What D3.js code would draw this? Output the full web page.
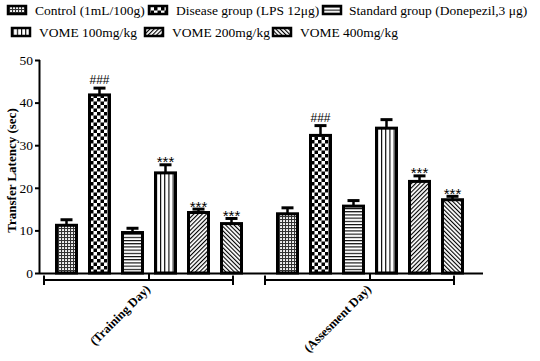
<!DOCTYPE html>
<html>
<head>
<meta charset="utf-8">
<script src="https://cdn.jsdelivr.net/npm/d3@7"></script>
<style>
  body { margin: 0; background: #fff; }
  svg { display: block; }
  text { font-family: "Liberation Serif", "Times New Roman", serif; fill: #000; }
</style>
</head>
<body>
<svg id="chart" width="540" height="361"></svg>
<script>
const groups = ["(Training Day)", "(Assesment Day)"];
const series = ["Control (1mL/100g)", "Disease group (LPS 12μg)", "Standard group (Donepezil,3 μg)",
                "VOME 100mg/kg", "VOME 200mg/kg", "VOME 400mg/kg"];
const trainingValues = [11.2, 41.8, 9.5, 23.5, 14.2, 11.6];
const trainingErrors = [1.3, 1.6, 1.0, 1.9, 0.8, 1.2];
const assessmentValues = [13.9, 32.3, 15.7, 34.0, 21.5, 17.2];
const assessmentErrors = [1.4, 2.3, 1.3, 2.0, 1.3, 0.8];
const trainingMarks = ["", "###", "", "***", "***", "***"];
const assessmentMarks = ["", "###", "", "", "***", "***"];
const yTicks = [0, 10, 20, 30, 40, 50];

const data = [
  { group: groups[0], values: trainingValues, errors: trainingErrors, marks: trainingMarks },
  { group: groups[1], values: assessmentValues, errors: assessmentErrors, marks: assessmentMarks }
];

const svg = d3.select("#chart");

// patterns
const defs = svg.append("defs");
function pat(id, w, h, draw) {
  const p = defs.append("pattern").attr("id", id).attr("patternUnits", "userSpaceOnUse")
    .attr("width", w).attr("height", h);
  p.append("rect").attr("width", w).attr("height", h).attr("fill", "#fff");
  draw(p);
}
// fine mesh
pat("p0", 3, 3, p => {
  p.append("rect").attr("x", 0).attr("y", 0).attr("width", 3).attr("height", 1).attr("fill", "#333");
  p.append("rect").attr("x", 0).attr("y", 0).attr("width", 1).attr("height", 3).attr("fill", "#333");
  p.append("rect").attr("x", 1.5).attr("y", 1.5).attr("width", 0.8).attr("height", 0.8).attr("fill", "#777");
});
// checkerboard
pat("p1", 7, 7, p => {
  p.append("rect").attr("x", 0).attr("y", 0).attr("width", 3.5).attr("height", 3.5).attr("fill", "#000");
  p.append("rect").attr("x", 3.5).attr("y", 3.5).attr("width", 3.5).attr("height", 3.5).attr("fill", "#000");
});
// horizontal lines
pat("p2", 4, 3.2, p => {
  p.append("rect").attr("x", 0).attr("y", 0).attr("width", 4).attr("height", 1.1).attr("fill", "#000");
});
// vertical lines
pat("p3", 4.2, 4, p => {
  p.append("rect").attr("x", 0).attr("y", 0).attr("width", 1.1).attr("height", 4).attr("fill", "#000");
});
// diagonal /
pat("p4", 3, 3, p => {
  p.attr("patternTransform", "rotate(45)");
  p.append("rect").attr("x", 0).attr("y", 0).attr("width", 1.1).attr("height", 3).attr("fill", "#000");
});
// diagonal \
pat("p5", 3, 3, p => {
  p.attr("patternTransform", "rotate(-45)");
  p.append("rect").attr("x", 0).attr("y", 0).attr("width", 1.1).attr("height", 3).attr("fill", "#000");
});
const fills = series.map((s, i) => `url(#p${i})`);

// scales
const y = d3.scaleLinear().domain([0, 50]).range([273, 60]);
const x0 = d3.scaleBand().domain(groups).range([55, 464]).paddingInner(33 / 221).paddingOuter(0);
const x1 = d3.scaleBand().domain(series).range([0, x0.bandwidth()]).paddingInner(10 / 33).paddingOuter(0);

// y axis
const yAxis = d3.axisLeft(y).tickValues(yTicks).tickSize(5).tickPadding(2).tickFormat(d3.format("d"));
const yg = svg.append("g").attr("transform", "translate(40,0)").call(yAxis);
yg.select(".domain").attr("stroke-width", 2).attr("d", `M-0.5,${y(50)}V${y(0) + 1}`);
yg.selectAll(".tick line").attr("stroke-width", 2);
yg.selectAll(".tick text").style("font-family", "'Liberation Serif', serif").style("font-size", "13.5px").attr("fill", "#000");

svg.append("text")
  .attr("transform", `translate(16,${(y(0) + y(50)) / 2 + 4}) rotate(-90)`)
  .attr("text-anchor", "middle")
  .style("font-size", "13px").style("font-weight", "bold")
  .text("Transfer Latency (sec)");

// bars
const gSel = svg.selectAll("g.grp").data(data).join("g").attr("class", "grp")
  .attr("transform", d => `translate(${x0(d.group)},0)`);

const items = gSel.selectAll("g.item").data(d => d.values.map((v, i) => ({ v, e: d.errors[i], m: d.marks[i], s: series[i], i })))
  .join("g").attr("class", "item");

// error bars
items.append("line")
  .attr("x1", d => x1(d.s) + x1.bandwidth() / 2).attr("x2", d => x1(d.s) + x1.bandwidth() / 2)
  .attr("y1", d => y(d.v)).attr("y2", d => y(d.v + d.e))
  .attr("stroke", "#000").attr("stroke-width", 2.5);
items.append("line")
  .attr("x1", d => x1(d.s) + x1.bandwidth() / 2 - 6).attr("x2", d => x1(d.s) + x1.bandwidth() / 2 + 6)
  .attr("y1", d => y(d.v + d.e)).attr("y2", d => y(d.v + d.e))
  .attr("stroke", "#000").attr("stroke-width", 3);

items.append("rect")
  .attr("x", d => x1(d.s) + 1.5).attr("width", x1.bandwidth() - 3)
  .attr("y", d => y(d.v)).attr("height", d => y(0) - y(d.v))
  .attr("fill", d => fills[d.i]).attr("stroke", "#000").attr("stroke-width", 3);

items.filter(d => d.m).append("text")
  .attr("x", d => x1(d.s) + x1.bandwidth() / 2)
  .attr("y", d => y(d.v + d.e) - (d.m === "###" ? 4 : -2.5))
  .attr("text-anchor", "middle")
  .style("font-size", d => d.m === "###" ? "12px" : "15px")
  .style("font-family", "'Liberation Sans', Arial, sans-serif")
  .style("fill", "#000")
  .text(d => d.m);

// x axis line
svg.append("line").attr("x1", 40).attr("x2", 483).attr("y1", y(0) + 0.5).attr("y2", y(0) + 0.5)
  .attr("stroke", "#000").attr("stroke-width", 2);

// group brackets
const br = gSel.append("g").attr("class", "bracket");
br.append("path")
  .attr("d", d => {
    const w = x0.bandwidth();
    const l = -11, r = w - 10, m = w / 2, by = y(0) + 7;
    return `M${l},${y(0) + 2.5}V${by + 5} M${l},${by}H${r} M${r},${y(0) + 2.5}V${by + 5} M${m},${y(0)}V${by}`;
  })
  .attr("fill", "none").attr("stroke", "#000").attr("stroke-width", 2);

// group labels
gSel.append("text")
  .attr("transform", d => `translate(${x0.bandwidth() / 2 + 2},${y(0) + 17}) rotate(-45)`)
  .attr("text-anchor", "end")
  .style("font-size", "12.5px").style("font-weight", "bold")
  .text(d => d.group);

// legend
const legendPos = [
  { sx: 7, tx: 35, y: 10 }, { sx: 148, tx: 176, y: 10 }, { sx: 322, tx: 349, y: 10 },
  { sx: 11, tx: 39, y: 32 }, { sx: 144, tx: 172, y: 32 }, { sx: 272, tx: 300, y: 32 }
];
const lg = svg.append("g").selectAll("g").data(series).join("g");
lg.append("rect")
  .attr("x", (d, i) => legendPos[i].sx + 1).attr("y", (d, i) => legendPos[i].y - 4)
  .attr("width", 18).attr("height", 8)
  .attr("fill", (d, i) => fills[i]).attr("stroke", "#000").attr("stroke-width", 2.5);
lg.append("text")
  .attr("x", (d, i) => legendPos[i].tx).attr("y", (d, i) => legendPos[i].y + 4.5)
  .style("font-size", "13.5px")
  .text(d => d);
</script>
</body>
</html>
